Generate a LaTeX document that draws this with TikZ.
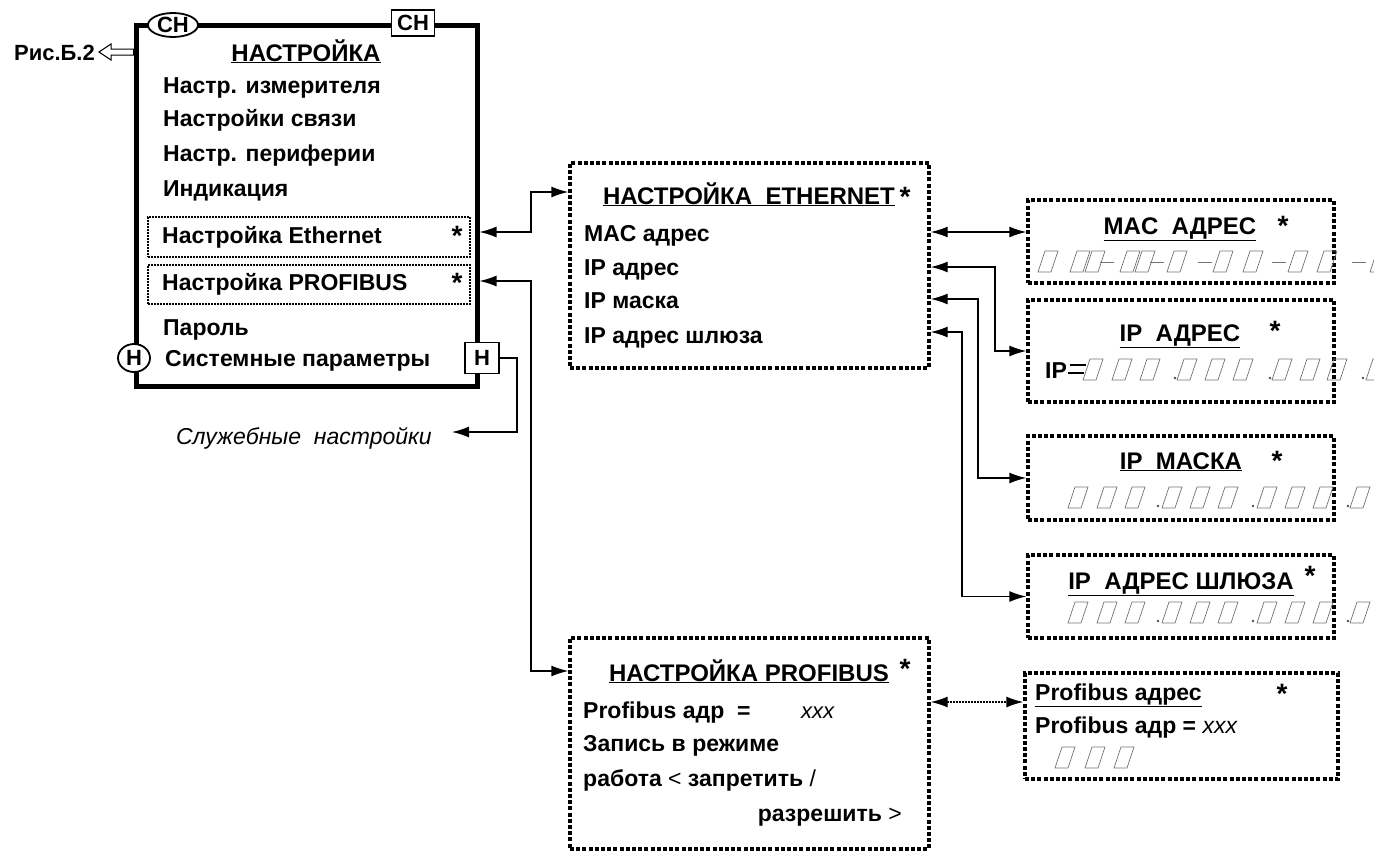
\documentclass[tikz,border=0pt]{standalone}
\usepackage{fontspec}
\setmainfont{Liberation Sans}
\usetikzlibrary{arrows.meta,shapes.geometric,calc}
\newcommand\phbox[2]{\draw[ph] ({#1},{#2+10}) -- ({#1+13},{#2+10}) -- ({#1+20},{#2-11}) -- ({#1+7},{#2-11}) -- cycle;}
\newcommand\phdot[2]{\fill[black!70] ({#1},{#2+8}) circle (1.4);}
\newcommand\phdash[2]{\draw[ph] ({#1},{#2}) -- ({#1+14},{#2});}
\tikzset{
  x=1pt,y=-1pt,
  >={Latex[length=17pt,width=11pt]},
  mainbox/.style={draw,line width=5pt,inner sep=0},
  dbox/.style={draw,line width=3.4pt,dash pattern=on 4pt off 2.2pt,inner sep=0},
  rowbox/.style={draw,line width=1.6pt,dash pattern=on 2pt off 1pt,inner sep=0},
  txt/.style={font=\bfseries\fontsize{23}{26}\selectfont,inner sep=0,anchor=base west},
  ttl/.style={font=\bfseries\fontsize{24}{26}\selectfont,inner sep=0,anchor=base},
  star/.style={font=\bfseries\fontsize{28}{28}\selectfont,inner sep=0,anchor=base},
  conn/.style={line width=1.4pt},
  ph/.style={draw=black!55,line width=0.7pt},
  tag/.style={font=\bfseries\fontsize{22}{22}\selectfont,inner sep=0,fill=white,line width=1.8pt,draw}
}
\begin{document}
\begin{tikzpicture}
\useasboundingbox (0,0) rectangle (1374,852);
% main box
\node[mainbox,minimum width=341pt,minimum height=361pt] (main) at (306.5,205.5) {};
\node[rowbox,minimum width=322pt,minimum height=40pt] (ethrow) at (309,237) {};
\node[rowbox,minimum width=322pt,minimum height=39pt] (profrow) at (309,284.5) {};
\node[tag,ellipse,minimum width=50pt,minimum height=24pt] (chell) at (173,25) {СН};
\node[tag,rectangle,minimum width=43pt,minimum height=26pt] (chsq) at (413,23) {СН};
\node[ttl] (mtitle) at (306,61) {\underline{НАСТРОЙКА}};
\node[txt] (m1) at (163,93) {Настр. измерителя};
\node[txt] (m2) at (163,126) {Настройки связи};
\node[txt] (m3) at (163,161) {Настр. периферии};
\node[txt] (m4) at (163,196) {Индикация};
\node[txt] (m5) at (162,243) {Настройка Ethernet};
\node[star] (s5) at (457,245) {*};
\node[txt] (m6) at (162,290) {Настройка PROFIBUS};
\node[star] (s6) at (457,292) {*};
\node[txt] (m7) at (163,335) {Пароль};
\node[txt] (m8) at (165,366) {Системные параметры};
\node[tag,ellipse,minimum width=32pt,minimum height=28pt] (hell) at (134,358) {Н};
\node[tag,rectangle,minimum width=34pt,minimum height=31pt] (hsq) at (482,358) {Н};
% fig ref
\node[font=\bfseries\fontsize{22}{22}\selectfont,inner sep=0,anchor=base east] (fig) at (95,60) {Рис.Б.2};
\draw[line width=1pt,fill=white] (99,52) -- (111,44) -- (111,49) -- (main.west|-0,49) -- (main.west|-0,55) -- (111,55) -- (111,60) -- cycle;
% service
\node[font=\itshape\fontsize{23}{26}\selectfont,inner sep=0,anchor=base east] (serv) at (432,444) {Служебные\ \ настройки};
\coordinate (servarr) at ($(serv.east)+(20,0)$);
\draw[conn,<-] (servarr|-0,432) -- (517,432) -- (517,358) -- (hsq.east);
% ethernet box
\node[dbox,minimum width=359pt,minimum height=205pt] (eth) at (749.5,265.5) {};
\node[ttl] (ethtitle) at (749,204) {\underline{НАСТРОЙКА\ \ ETHERNET}};
\node[star] (es) at (905,206) {*};
\node[txt] (e1) at (584,241) {MAC адрес};
\node[txt] (e2) at (584,275) {IP адрес};
\node[txt] (e3) at (584,308) {IP маска};
\node[txt] (e4) at (584,343) {IP адрес шлюза};
% right boxes
\node[dbox,minimum width=306pt,minimum height=83pt] (mac) at (1181,241.5) {};
\node[dbox,minimum width=306pt,minimum height=102pt] (ip) at (1181,351) {};
\node[dbox,minimum width=306pt,minimum height=84pt] (mask) at (1181,478) {};
\node[dbox,minimum width=306pt,minimum height=83pt] (gw) at (1181,596.5) {};
\node[ttl] (mact) at (1180,234) {\underline{MAC\ \ АДРЕС}};
\node[star] (macs) at (1283,235) {*};
\node[ttl] (ipt) at (1180,341) {\underline{IP\ \ АДРЕС}};
\node[star] (ips) at (1275,340) {*};
\node[ttl] (maskt) at (1181,469) {\underline{IP\ \ МАСКА}};
\node[star] (masks) at (1277,470) {*};
\node[ttl] (gwt) at (1181,589) {\underline{IP\ \ АДРЕС ШЛЮЗА}};
\node[star] (gws) at (1310,585) {*};
\node[txt] (ipeq) at (1045,378) {IP};
\draw[line width=1.6pt] (1070,365) -- (1086,365) (1068,373) -- (1084,373);
% profibus boxes
\node[dbox,minimum width=359pt,minimum height=211pt] (prof) at (749.5,743.5) {};
\node[ttl] (proft) at (749,681) {\underline{НАСТРОЙКА PROFIBUS}};
\node[star] (profs) at (905,678) {*};
\node[txt] (p1) at (583,718) {Profibus адр\ \ =};
\node[font=\itshape\fontsize{22}{24}\selectfont,inner sep=0,anchor=base west] (p1x) at (801,718) {xxx};
\node[txt] (p2) at (583,751) {Запись в режиме};
\node[txt] (p3) at (583,786) {работа {\mdseries<} запретить {\mdseries/}};
\node[txt,anchor=base east] (p4) at (902,821) {разрешить {\mdseries>}};
\node[dbox,minimum width=313pt,minimum height=106pt] (pa) at (1181.5,726) {};
\node[txt] (pat) at (1035,700) {\underline{Profibus адрес}};
\node[star] (pas) at (1282,703) {*};
\node[txt] (pa1) at (1035,733) {Profibus адр = {\mdseries\itshape xxx}};
% connectors
\draw[conn,<->] (main.east|-0,232) -- (531,232) -- (531,192) -- (eth.west|-0,192);
\draw[conn,<->] (main.east|-0,281) -- (531,281) -- (531,671) -- (prof.west|-0,671);
\draw[conn,<->] (eth.east|-0,232) -- (mac.west|-0,232);
\draw[conn,<->] (eth.east|-0,267) -- (995,267) -- (995,351) -- (ip.west);
\draw[conn,<->] (eth.east|-0,299) -- (978,299) -- (978,478) -- (mask.west);
\draw[conn,<->] (eth.east|-0,332) -- (962,332) -- (962,596.5) -- (gw.west);
\draw[conn,<->,dash pattern=on 2pt off 1pt] (prof.east|-0,702) -- (pa.west|-0,702);
% placeholders
\begin{scope}
\clip (0,0) rectangle (1374,852);
\foreach \x in {1038,1070,1085,1120,1135,1167,1213,1243,1288,1317,1370} {\phbox{\x}{262}}
\foreach \x in {1100,1150,1198,1272,1352} {\phdash{\x}{262}}
\foreach \x in {1083,1112,1140,1177,1205,1233,1272,1300,1327,1366} {\phbox{\x}{370}}
\foreach \x in {1175,1270,1363} {\phdot{\x}{370}}
\foreach \y in {498,613} {
  \foreach \x in {1068,1097,1125,1162,1190,1218,1257,1285,1313,1350} {\phbox{\x}{\y}}
  \foreach \x in {1158,1253,1348} {\phdot{\x}{\y}}
}
\foreach \x in {1055,1085,1114} {\phbox{\x}{758}}
\end{scope}
\end{tikzpicture}
\end{document}
